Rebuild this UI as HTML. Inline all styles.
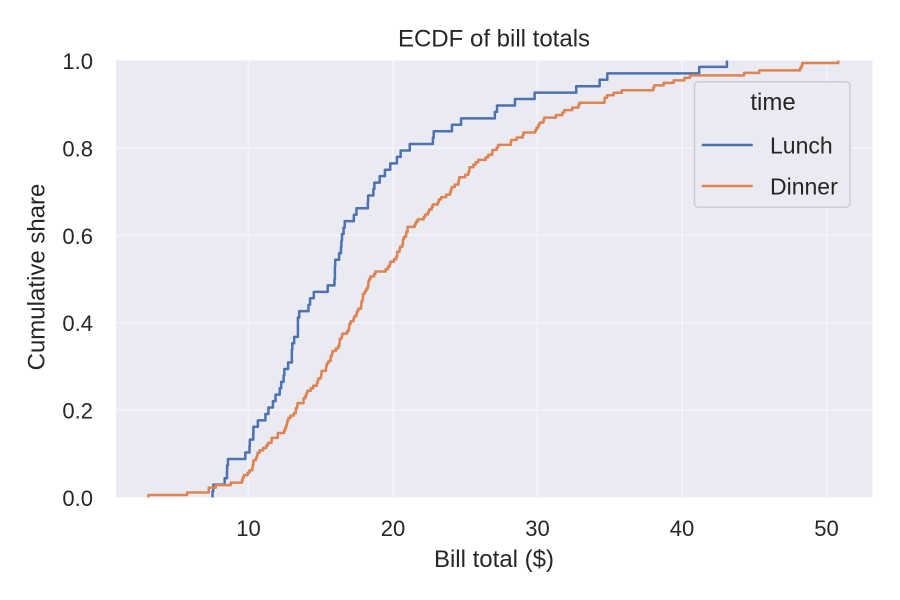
<!DOCTYPE html>
<html>
<head>
<meta charset="utf-8">
<style>
html,body{margin:0;padding:0;background:#ffffff;}
svg{display:block;}
text{font-family:"Liberation Sans","DejaVu Sans",sans-serif;fill:#262626;}
</style>
</head>
<body>
<svg width="900" height="600" viewBox="0 0 900 600" xmlns="http://www.w3.org/2000/svg">
  <defs>
    <clipPath id="plotclip">
      <rect x="116" y="60.5" width="756.5" height="437"/>
    </clipPath>
  </defs>
  <rect x="0" y="0" width="900" height="600" fill="#ffffff"/>
  <!-- axes background -->
  <rect x="116" y="60.5" width="756.5" height="437" fill="#EAEAF2"/>
  <!-- grid -->
  <g stroke="#ffffff" stroke-opacity="0.4" stroke-width="2" fill="none">
    <line x1="248.5" y1="60.5" x2="248.5" y2="497.5"/>
    <line x1="393" y1="60.5" x2="393" y2="497.5"/>
    <line x1="537.5" y1="60.5" x2="537.5" y2="497.5"/>
    <line x1="682" y1="60.5" x2="682" y2="497.5"/>
    <line x1="826.5" y1="60.5" x2="826.5" y2="497.5"/>
    <line x1="116" y1="410.1" x2="872.5" y2="410.1"/>
    <line x1="116" y1="322.7" x2="872.5" y2="322.7"/>
    <line x1="116" y1="235.3" x2="872.5" y2="235.3"/>
    <line x1="116" y1="147.9" x2="872.5" y2="147.9"/>
  </g>
  <!-- series -->
  <g clip-path="url(#plotclip)" fill="none" stroke-linejoin="round" stroke-linecap="square">
    <path transform="matrix(14.45 0 0 -6.42647 104 497.5)" vector-effect="non-scaling-stroke" stroke="#4C72B0" stroke-width="2.5"
      d="M7.51 0 V1 H7.56 V2 H8.35 V3 H8.51 V4 H8.52 V5 H8.58 V6 H9.78 V7 H10.07 V8 H10.09 V9 H10.33 V10 H10.34 V11 H10.65 V12 H11.17 V13 H11.38 V14 H11.69 V15 H11.87 V16 H12.16 V17 H12.26 V18 H12.43 V19 H12.48 V20 H12.74 V21 H13 V23 H13.03 V24 H13.16 V25 H13.42 V28 H13.51 V29 H14.15 V30 H14.26 V31 H14.52 V32 H15.48 V33 H15.95 V34 H15.98 V36 H16 V37 H16.27 V38 H16.4 V39 H16.43 V40 H16.47 V41 H16.58 V42 H16.66 V43 H17.29 V44 H17.47 V45 H18.26 V46 H18.28 V47 H18.64 V48 H18.71 V49 H19.08 V50 H19.44 V51 H19.81 V52 H20.27 V53 H20.53 V54 H21.16 V55 H22.76 V56 H22.82 V57 H24.08 V58 H24.71 V59 H27.05 V60 H27.2 V61 H28.44 V62 H29.8 V63 H32.68 V64 H34.3 V65 H34.83 V66 H41.19 V67 H43.11 V68"/>
    <path transform="matrix(14.45 0 0 -2.48295 104 497.5)" vector-effect="non-scaling-stroke" stroke="#DD8452" stroke-width="2.5"
      d="M3.07 0 V1 H5.75 V2 H7.25 V4 H7.74 V5 H8.77 V6 H9.55 V7 H9.6 V8 H9.68 V9 H9.94 V10 H10.07 V11 H10.27 V12 H10.29 V13 H10.33 V14 H10.34 V15 H10.51 V16 H10.59 V17 H10.63 V18 H10.77 V19 H11.02 V20 H11.24 V21 H11.35 V22 H11.59 V23 H11.61 V24 H12.02 V25 H12.03 V26 H12.46 V27 H12.54 V28 H12.6 V29 H12.66 V30 H12.69 V31 H12.76 V32 H12.9 V33 H13.13 V34 H13.27 V35 H13.28 V36 H13.37 V37 H13.39 V38 H13.81 V40 H13.94 V41 H14 V42 H14.07 V43 H14.31 V44 H14.48 V45 H14.73 V46 H14.78 V47 H14.83 V48 H15.01 V49 H15.04 V50 H15.06 V51 H15.36 V52 H15.38 V53 H15.42 V54 H15.53 V55 H15.69 V57 H15.77 V58 H15.81 V59 H16.04 V60 H16.21 V61 H16.29 V62 H16.31 V63 H16.32 V64 H16.45 V65 H16.49 V66 H16.82 V67 H16.93 V68 H16.97 V69 H16.99 V70 H17.07 V71 H17.26 V72 H17.31 V73 H17.46 V74 H17.51 V75 H17.59 V76 H17.78 V77 H17.81 V78 H17.82 V79 H17.89 V80 H17.92 V82 H18.04 V83 H18.15 V84 H18.24 V85 H18.29 V87 H18.35 V88 H18.43 V89 H18.69 V90 H18.78 V91 H19.49 V92 H19.65 V93 H19.77 V94 H19.82 V95 H20.08 V96 H20.23 V97 H20.29 V99 H20.45 V100 H20.49 V101 H20.65 V102 H20.69 V104 H20.76 V105 H20.9 V106 H20.92 V107 H21.01 V109 H21.5 V110 H21.58 V111 H21.7 V112 H22.12 V113 H22.23 V114 H22.42 V115 H22.49 V116 H22.67 V117 H22.75 V118 H23.1 V119 H23.17 V120 H23.33 V121 H23.68 V122 H23.95 V123 H24.01 V124 H24.06 V125 H24.27 V126 H24.52 V127 H24.55 V128 H24.59 V129 H25 V130 H25.21 V131 H25.28 V132 H25.29 V133 H25.56 V134 H25.71 V135 H25.89 V136 H26.41 V137 H26.59 V138 H26.86 V139 H26.88 V140 H27.18 V141 H27.28 V142 H28.15 V143 H28.17 V144 H28.55 V145 H28.97 V146 H29.03 V147 H29.85 V148 H29.93 V149 H30.06 V150 H30.14 V151 H30.4 V152 H30.46 V153 H31.27 V154 H31.71 V155 H31.85 V156 H32.4 V157 H32.83 V158 H32.9 V159 H34.63 V160 H34.65 V161 H34.81 V162 H35.26 V163 H35.83 V164 H38.01 V165 H38.07 V166 H38.73 V167 H39.42 V168 H40.17 V169 H40.55 V170 H44.3 V171 H45.35 V172 H48.17 V173 H48.27 V174 H48.33 V175 H50.81 V176"/>
  </g>
  <!-- y tick labels -->
  <g font-size="22" text-anchor="end">
    <text x="93" y="506">0.0</text>
    <text x="93" y="418.6">0.2</text>
    <text x="93" y="331.2">0.4</text>
    <text x="93" y="243.8">0.6</text>
    <text x="93" y="156.4">0.8</text>
    <text x="93" y="69">1.0</text>
  </g>
  <!-- x tick labels -->
  <g font-size="22" text-anchor="middle">
    <text x="248.5" y="536">10</text>
    <text x="393" y="536">20</text>
    <text x="537.5" y="536">30</text>
    <text x="682" y="536">40</text>
    <text x="826.5" y="536">50</text>
  </g>
  <!-- axis labels and title -->
  <text x="494" y="567" font-size="24" text-anchor="middle">Bill total ($)</text>
  <text transform="translate(44.5 277) rotate(-90)" font-size="24" text-anchor="middle">Cumulative share</text>
  <text x="494" y="46.5" font-size="24" text-anchor="middle">ECDF of bill totals</text>
  <!-- legend -->
  <rect x="694.5" y="81.7" width="155.5" height="125.6" rx="4" ry="4" fill="#EAEAF2" fill-opacity="0.85" stroke="#cccccc" stroke-width="1.5"/>
  <text x="773" y="110" font-size="24" text-anchor="middle">time</text>
  <line x1="703" y1="145" x2="751.5" y2="145" stroke="#4C72B0" stroke-width="2.5" stroke-linecap="square"/>
  <line x1="703" y1="186" x2="751.5" y2="186" stroke="#DD8452" stroke-width="2.5" stroke-linecap="square"/>
  <text x="770" y="153.3" font-size="23">Lunch</text>
  <text x="770" y="194.3" font-size="23">Dinner</text>
</svg>
</body>
</html>
